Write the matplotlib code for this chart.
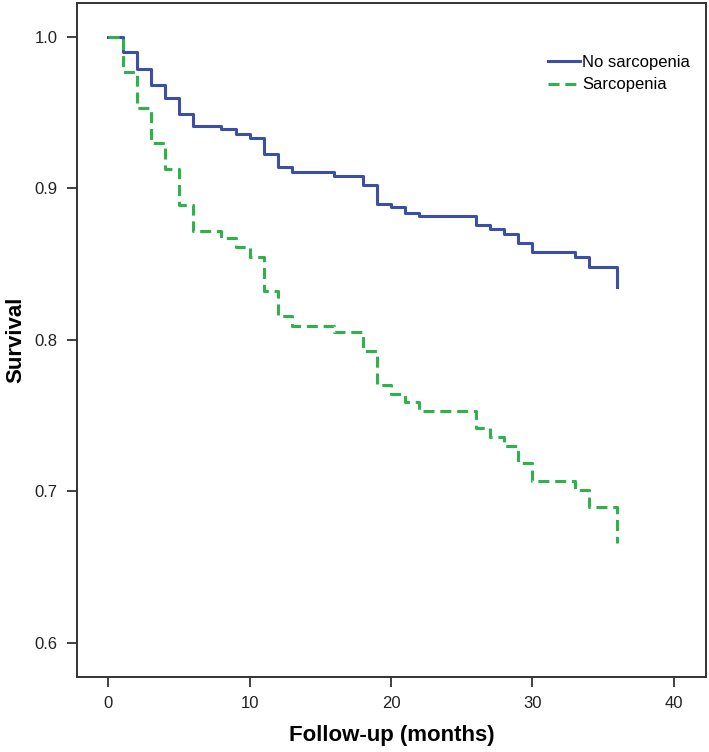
import matplotlib.pyplot as plt

# Kaplan-Meier steps
t_no = [0, 1, 2, 3, 4, 5, 6, 8, 9, 10, 11, 12, 13, 16, 18, 19, 20, 21, 22,
        26, 27, 28, 29, 30, 33, 34, 36]
s_no = [1.0, 0.990, 0.979, 0.968, 0.960, 0.949, 0.941, 0.939, 0.936, 0.933,
        0.923, 0.914, 0.911, 0.908, 0.902, 0.890, 0.888, 0.884, 0.882,
        0.876, 0.873, 0.870, 0.864, 0.858, 0.855, 0.848, 0.835]

t_sar = [0, 1, 2, 3, 4, 5, 6, 8, 9, 10, 11, 12, 13, 16, 18, 19, 20, 21, 22,
         26, 27, 28, 29, 30, 33, 34, 36]
s_sar = [1.0, 0.977, 0.953, 0.930, 0.913, 0.889, 0.872, 0.867, 0.861, 0.855,
         0.832, 0.816, 0.809, 0.805, 0.793, 0.770, 0.764, 0.759, 0.753,
         0.742, 0.736, 0.730, 0.719, 0.707, 0.701, 0.690, 0.666]

x_ticks = [0, 10, 20, 30, 40]
y_ticks = [0.6, 0.7, 0.8, 0.9, 1.0]

plt.rcParams['font.family'] = ['Liberation Sans', 'DejaVu Sans']

fig = plt.figure(figsize=(7.09, 7.52), dpi=100)
ax = fig.add_axes([0.109, 0.100, 0.887, 0.896])

ax.step(t_no, s_no, where='post', color='#3b4fa8', linewidth=2.2,
        label='No sarcopenia')
ax.step(t_sar, s_sar, where='post', color='#2db34a', linewidth=2.2,
        linestyle=(0, (3.6, 1.9)), label='Sarcopenia')

ax.set_xlim(-2.2, 42.3)
ax.set_ylim(0.5776, 1.0224)
ax.set_xticks(x_ticks)
ax.set_yticks(y_ticks)
ax.set_yticklabels([f'{v:.1f}' for v in y_ticks])
ax.tick_params(direction='out', length=7, width=1.3, labelsize=12,
               color='#333333', labelcolor='#222222', pad=7)

for sp in ax.spines.values():
    sp.set_linewidth(1.4)
    sp.set_color('#333333')

ax.set_xlabel('Follow-up (months)', fontsize=16, fontweight='bold', labelpad=10)
ax.set_ylabel('Survival', fontsize=16, fontweight='bold', labelpad=6)

ax.legend(loc='upper left', bbox_to_anchor=(0.749, 0.923), frameon=False,
          fontsize=12, handlelength=1.9, handletextpad=0.15, labelspacing=0.45,
          borderpad=0, borderaxespad=0)

fig.savefig('out.png', dpi=100)
